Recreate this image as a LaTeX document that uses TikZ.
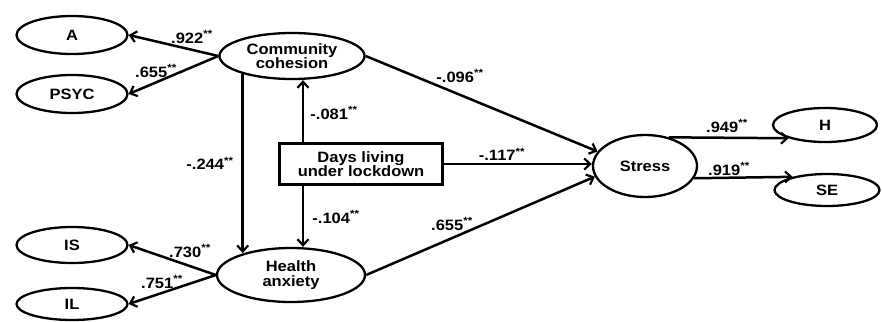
\documentclass[tikz,border=0pt]{standalone}
\usepackage{fontspec}
\setmainfont{Liberation Sans}[FakeStretch=1.1]
\usetikzlibrary{shapes.geometric,arrows.meta,calc}
\begin{document}
\begin{tikzpicture}[x=1pt,y=-1pt,
  every node/.style={font=\fontsize{15}{14.5}\selectfont\bfseries},
  ell/.style={draw,ellipse,line width=2.3pt,inner sep=0pt,align=center},
  boxn/.style={draw,rectangle,line width=2.3pt,inner sep=0pt,align=center,minimum width=163pt,minimum height=41pt},
  arr/.style={line width=2.5pt,-{Straight Barb[length=6pt,width=11pt,line width=2.2pt]}},
  lab/.style={font=\fontsize{15}{14}\selectfont\bfseries,inner sep=0pt}]
\useasboundingbox (0,0) rectangle (882,321);
\fill[white] (0,0) rectangle (882,321);
% nodes
\node[ell,minimum width=111pt,minimum height=38pt] (A) at (72,35) {A};
\node[ell,minimum width=111pt,minimum height=38pt] (PSYC) at (72,94) {PSYC};
\node[ell,minimum width=145pt,minimum height=46pt] (CC) at (292,56) {Community\\cohesion};
\node[boxn] (D) at (361,164) {Days living\\under lockdown};
\node[ell,minimum width=148pt,minimum height=54pt] (HA) at (291,275) {Health\\anxiety};
\node[ell,minimum width=111pt,minimum height=36pt] (IS) at (72,245) {IS};
\node[ell,minimum width=111pt,minimum height=32pt] (IL) at (72,304) {IL};
\node[ell,minimum width=104pt,minimum height=62pt] (S) at (645,166) {Stress};
\node[ell,minimum width=104pt,minimum height=34pt] (H) at (825,125) {H};
\node[ell,minimum width=105pt,minimum height=32pt] (SE) at (827,190) {SE};
% connectors
\draw[arr] (CC.west) -- (A.east);
\draw[arr] (CC.west) -- (PSYC.east);
\draw[arr] (HA.west) -- (IS.east);
\draw[arr] (HA.west) -- (IL.east);
\draw[arr] (CC.200) -- (CC.200 |- HA.155);
\coordinate (Dt) at ($(D.north)+(-58,0)$);
\coordinate (Db) at ($(D.south)+(-58,0)$);
\draw[arr] (Dt) -- (Dt |- CC.south);
\draw[arr] (Db) -- (Db |- HA.north);
\draw[arr] (D.east) -- (D.east -| S.west);
\draw[arr] (CC.east) -- (S.163);
\draw[arr] (HA.east) -- (S.192);
\draw[arr] (S.50) -- (H.200);
\draw[arr] (S.-14) -- (SE.159);
% labels
\node[lab] at (192,37) {.922\textsuperscript{**}};
\node[lab] at (156,71) {.655\textsuperscript{**}};
\node[lab] at (334,113) {-.081\textsuperscript{**}};
\node[lab] at (210,163) {-.244\textsuperscript{**}};
\node[lab] at (336,217) {-.104\textsuperscript{**}};
\node[lab] at (190,251) {.730\textsuperscript{**}};
\node[lab] at (162,282) {.751\textsuperscript{**}};
\node[lab] at (452,224) {.655\textsuperscript{**}};
\node[lab] at (460,76) {-.096\textsuperscript{**}};
\node[lab] at (502,154) {-.117\textsuperscript{**}};
\node[lab] at (727,126) {.949\textsuperscript{**}};
\node[lab] at (729,169) {.919\textsuperscript{**}};
\end{tikzpicture}
\end{document}
